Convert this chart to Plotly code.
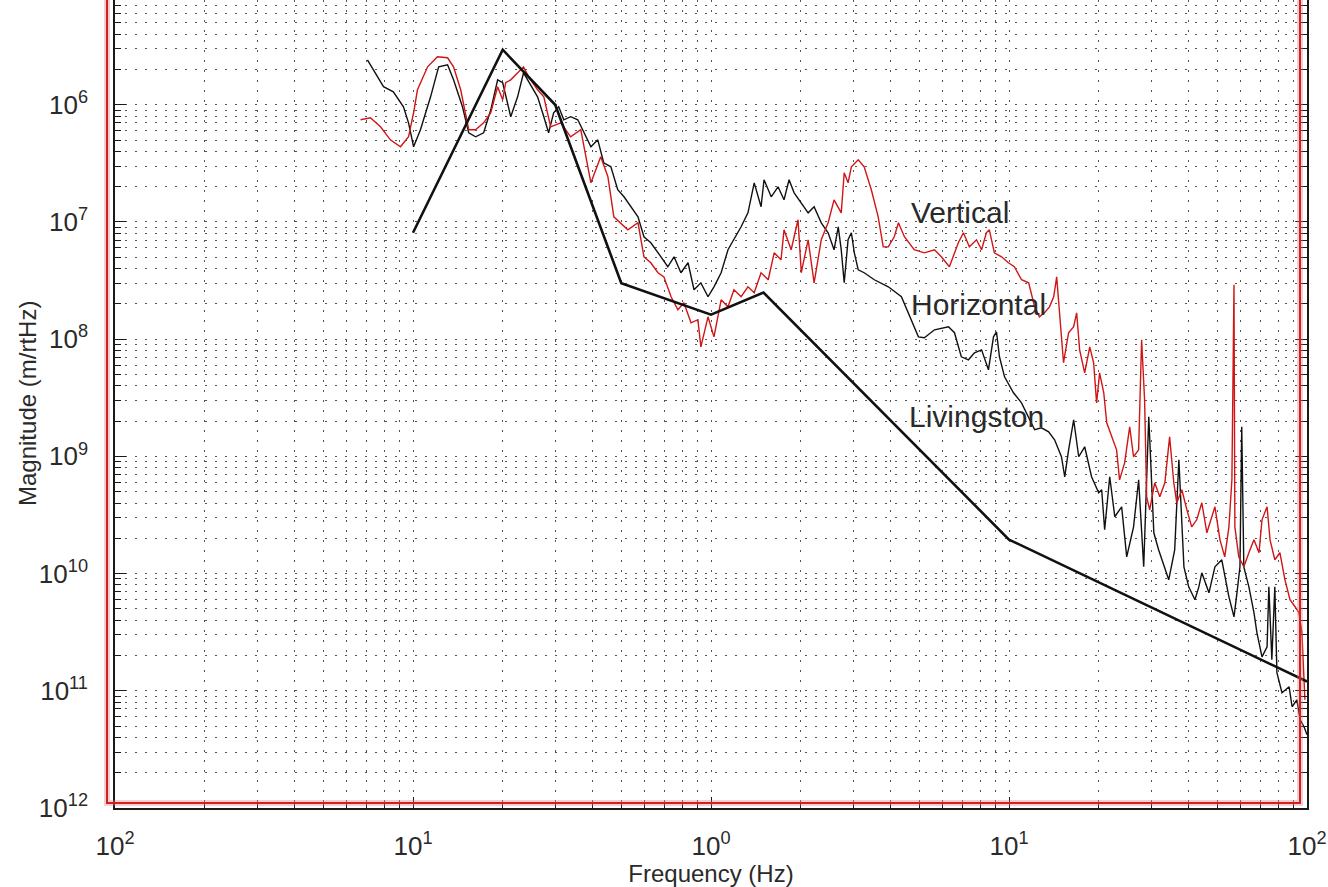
import numpy as np
import plotly.graph_objects as go

# ---------------- data ----------------
# Livingston model curve (Hz, m/rtHz)
livingston_freq = [0.1, 0.2, 0.3, 0.5, 1.0, 1.5, 10.0, 100.0]
livingston_mag = [8.1e-8, 2.95e-6, 1.0e-6, 3.0e-8, 1.62e-8, 2.5e-8, 1.95e-10, 1.2e-11]

# Horizontal spectrum (black), log10 of frequency [Hz] and log10 of magnitude [m/rtHz]
horizontal_log10_freq = [
    -1.153, -1.099, -1.066, -1.032, -1.015, -0.998, -0.975, -0.941, -0.914, -0.884,
    -0.864, -0.834, -0.813, -0.790, -0.763, -0.739, -0.716, -0.699, -0.672, -0.649,
    -0.629, -0.598, -0.582, -0.561, -0.545, -0.528, -0.511, -0.494, -0.471, -0.447,
    -0.427, -0.403, -0.380, -0.360, -0.336, -0.313, -0.292, -0.269, -0.245, -0.225,
    -0.202, -0.168, -0.145, -0.124, -0.101, -0.077, -0.057, -0.034, -0.010, 0.010,
    0.034, 0.057, 0.077, 0.101, 0.124, 0.145, 0.168, 0.178, 0.202, 0.225,
    0.245, 0.262, 0.279, 0.303, 0.326, 0.346, 0.370, 0.393, 0.413, 0.427,
    0.437, 0.447, 0.460, 0.471, 0.481, 0.494, 0.514, 0.548, 0.595, 0.639,
    0.662, 0.696, 0.716, 0.750, 0.797, 0.817, 0.840, 0.864, 0.884, 0.908,
    0.931, 0.948, 0.958, 0.968, 0.985, 1.002, 1.015, 1.042, 1.066, 1.086,
    1.109, 1.133, 1.153, 1.176, 1.187, 1.200, 1.217, 1.234, 1.254, 1.277,
    1.301, 1.311, 1.321, 1.338, 1.355, 1.378, 1.395, 1.418, 1.435, 1.452,
    1.469, 1.486, 1.502, 1.523, 1.536, 1.556, 1.570, 1.587, 1.603, 1.624,
    1.637, 1.647, 1.671, 1.691, 1.714, 1.738, 1.755, 1.765, 1.775, 1.781,
    1.788, 1.805, 1.822, 1.832, 1.849, 1.866, 1.872, 1.882, 1.892, 1.899,
    1.916, 1.940, 1.950, 1.966, 1.977, 1.990, 2.000,
]
horizontal_log10_mag = [
    -5.616, -5.846, -5.889, -6.017, -6.154, -6.358, -6.213, -5.932, -5.676, -5.659,
    -5.787, -6.017, -6.239, -6.273, -6.239, -6.043, -5.787, -5.812, -6.102, -5.932,
    -5.727, -5.855, -5.932, -6.102, -6.239, -6.068, -6.017, -6.128, -6.102, -6.128,
    -6.239, -6.358, -6.299, -6.495, -6.529, -6.725, -6.785, -6.870, -6.956, -7.126,
    -7.177, -7.297, -7.382, -7.297, -7.433, -7.348, -7.578, -7.519, -7.638, -7.553,
    -7.433, -7.237, -7.152, -7.041, -6.922, -6.666, -6.870, -6.640, -6.785, -6.700,
    -6.811, -6.640, -6.751, -6.836, -6.922, -6.870, -7.007, -7.092, -7.237, -7.041,
    -7.237, -7.519, -7.152, -7.092, -7.263, -7.408, -7.433, -7.493, -7.553, -7.638,
    -7.775, -7.980, -7.988, -7.920, -7.894, -7.945, -8.150, -8.176, -8.116, -8.091,
    -8.261, -7.980, -7.937, -8.150, -8.321, -8.406, -8.457, -8.543, -8.662, -8.773,
    -8.756, -8.790, -8.858, -9.003, -9.174, -8.944, -8.688, -9.003, -8.918, -9.174,
    -9.311, -9.285, -9.626, -9.174, -9.515, -9.430, -9.857, -9.601, -9.200, -9.942,
    -8.662, -9.652, -9.797, -9.968, -10.053, -9.797, -9.029, -9.942, -10.113, -10.223,
    -10.113, -9.993, -10.164, -9.942, -9.882, -10.198, -10.369, -10.164, -9.942, -8.747,
    -9.942, -10.113, -10.334, -10.505, -10.710, -10.625, -10.113, -10.735, -10.113, -10.846,
    -11.017, -10.966, -11.136, -11.077, -11.247, -11.307, -11.375,
]

# Vertical spectrum (red), log10 of frequency [Hz] and log10 of magnitude [m/rtHz]
vertical_log10_freq = [
    -1.176, -1.143, -1.109, -1.076, -1.042, -1.015, -0.998, -0.985, -0.951, -0.918,
    -0.884, -0.864, -0.840, -0.824, -0.813, -0.790, -0.763, -0.739, -0.716, -0.699,
    -0.689, -0.672, -0.649, -0.629, -0.612, -0.582, -0.561, -0.538, -0.504, -0.471,
    -0.437, -0.403, -0.370, -0.346, -0.326, -0.303, -0.279, -0.245, -0.225, -0.202,
    -0.178, -0.158, -0.134, -0.111, -0.091, -0.067, -0.044, -0.034, -0.010, 0.010,
    0.034, 0.057, 0.077, 0.101, 0.124, 0.145, 0.168, 0.192, 0.212, 0.235,
    0.245, 0.269, 0.292, 0.303, 0.326, 0.346, 0.370, 0.393, 0.413, 0.437,
    0.447, 0.460, 0.471, 0.494, 0.514, 0.538, 0.561, 0.578, 0.595, 0.615,
    0.629, 0.649, 0.682, 0.716, 0.750, 0.773, 0.800, 0.830, 0.847, 0.867,
    0.891, 0.908, 0.924, 0.934, 0.951, 0.975, 0.998, 1.018, 1.042, 1.066,
    1.086, 1.102, 1.119, 1.136, 1.150, 1.160, 1.170, 1.183, 1.200, 1.217,
    1.227, 1.237, 1.254, 1.271, 1.284, 1.294, 1.304, 1.318, 1.328, 1.345,
    1.361, 1.371, 1.388, 1.405, 1.418, 1.435, 1.445, 1.455, 1.462, 1.472,
    1.489, 1.506, 1.523, 1.539, 1.553, 1.563, 1.580, 1.597, 1.613, 1.630,
    1.647, 1.664, 1.681, 1.691, 1.708, 1.724, 1.738, 1.748, 1.755, 1.758,
    1.771, 1.788, 1.805, 1.822, 1.839, 1.849, 1.866, 1.876, 1.892, 1.909,
    1.926, 1.943, 1.960, 1.973, 1.983, 1.993,
]
vertical_log10_mag = [
    -6.128, -6.111, -6.188, -6.299, -6.358, -6.273, -6.068, -5.872, -5.676, -5.590,
    -5.599, -5.676, -5.872, -6.068, -6.213, -6.213, -6.154, -6.068, -5.846, -5.957,
    -5.812, -5.787, -5.727, -5.676, -5.761, -5.872, -5.932, -6.188, -6.154, -6.273,
    -6.213, -6.666, -6.444, -6.614, -6.956, -7.007, -7.067, -7.007, -7.297, -7.348,
    -7.433, -7.468, -7.638, -7.749, -7.689, -7.860, -7.834, -8.065, -7.809, -7.980,
    -7.664, -7.724, -7.578, -7.638, -7.553, -7.604, -7.433, -7.493, -7.263, -7.323,
    -7.067, -7.237, -6.981, -7.433, -7.152, -7.519, -7.152, -7.007, -6.811, -6.922,
    -6.580, -6.666, -6.529, -6.469, -6.529, -6.725, -6.956, -7.212, -7.212, -7.126,
    -7.007, -7.126, -7.237, -7.263, -7.237, -7.297, -7.382, -7.177, -7.092, -7.212,
    -7.152, -7.237, -7.092, -7.067, -7.263, -7.297, -7.348, -7.382, -7.493, -7.519,
    -7.724, -7.809, -7.775, -7.724, -7.638, -7.468, -7.809, -8.201, -7.945, -7.894,
    -7.775, -8.091, -8.287, -8.065, -8.201, -8.543, -8.287, -8.457, -8.713, -8.833,
    -8.944, -9.200, -9.055, -8.747, -9.003, -8.944, -8.005, -8.517, -9.345, -9.456,
    -9.225, -9.345, -9.225, -8.833, -9.225, -9.396, -9.285, -9.456, -9.601, -9.541,
    -9.396, -9.652, -9.515, -9.430, -9.712, -9.857, -9.601, -9.200, -7.536, -9.601,
    -9.857, -9.942, -9.822, -9.712, -9.822, -9.541, -9.430, -9.712, -9.882, -9.822,
    -10.053, -10.223, -10.283, -10.334, -10.505, -11.077,
]

# Tick labels as printed in the picture (minus signs are not shown there)
x_tick_values = [0.01, 0.1, 1, 10, 100]
x_tick_labels = ["10<sup>2</sup>", "10<sup>1</sup>", "10<sup>0</sup>", "10<sup>1</sup>", "10<sup>2</sup>"]
y_tick_values = [1e-12, 1e-11, 1e-10, 1e-9, 1e-8, 1e-7, 1e-6]
y_tick_labels = ["10<sup>12</sup>", "10<sup>11</sup>", "10<sup>10</sup>", "10<sup>9</sup>",
                 "10<sup>8</sup>", "10<sup>7</sup>", "10<sup>6</sup>"]

curve_labels = ["Vertical", "Horizontal", "Livingston"]
curve_label_freq = [4.62, 4.62, 4.55]
curve_label_mag = [1.2e-7, 1.96e-8, 2.18e-9]

# ---------------- figure ----------------
FONT = "Liberation Sans, Arial, Helvetica, sans-serif"
TXT = "#2a2a2a"
GRID = "#555555"
DASH = "1.5px,8.5px"

fig = go.Figure()

fig.add_trace(go.Scatter(
    x=10 ** np.array(horizontal_log10_freq), y=10 ** np.array(horizontal_log10_mag),
    mode="lines", line=dict(color="#111111", width=1.4), name="Horizontal",
    showlegend=False))
fig.add_trace(go.Scatter(
    x=10 ** np.array(vertical_log10_freq), y=10 ** np.array(vertical_log10_mag),
    mode="lines", line=dict(color="#d01515", width=1.4), name="Vertical",
    showlegend=False))
fig.add_trace(go.Scatter(
    x=livingston_freq, y=livingston_mag,
    mode="lines", line=dict(color="#111111", width=2.6), name="Livingston",
    showlegend=False))

for txt, fx, my in zip(curve_labels, curve_label_freq, curve_label_mag):
    fig.add_annotation(x=np.log10(fx), y=np.log10(my), xref="x", yref="y",
                       text=txt, showarrow=False, xanchor="left", yanchor="middle",
                       font=dict(family=FONT, size=30, color=TXT))

# y-axis title placed close to the tick labels, as in the picture
plot_w, plot_h = 1192, 808
fig.add_annotation(x=-88 / plot_w, y=0.5, xref="paper", yref="paper",
                   text="Magnitude (m/rtHz)", textangle=-90, showarrow=False,
                   xanchor="center", yanchor="middle",
                   font=dict(family=FONT, size=24, color=TXT))

minor_x = [m * 10.0 ** k for k in range(-2, 2) for m in range(2, 10)]
minor_y = [m * 10.0 ** k for k in range(-12, -5) for m in range(2, 10)]

common_axis = dict(
    showline=True, linecolor="#1a1a1a", linewidth=1.6,
    ticks="inside", ticklen=11, tickwidth=1.2, tickcolor="#1a1a1a",
    showgrid=True, gridcolor=GRID, gridwidth=1, griddash=DASH,
    tickfont=dict(family=FONT, size=26, color=TXT),
    zeroline=False,
)

fig.update_xaxes(
    type="log", range=[-2, 2], tickmode="array",
    tickvals=x_tick_values, ticktext=x_tick_labels, mirror=False,
    ticklabelstandoff=14,
    title=dict(text="Frequency (Hz)", font=dict(family=FONT, size=24, color=TXT), standoff=4),
    minor=dict(tickmode="array", tickvals=minor_x, ticks="inside", ticklen=6,
               tickcolor="#1a1a1a", showgrid=True, gridcolor=GRID, griddash=DASH),
    **common_axis)
fig.update_yaxes(
    type="log", range=[-12, -5.106], tickmode="array",
    tickvals=y_tick_values, ticktext=y_tick_labels, mirror="allticks",
    ticklabelstandoff=20,
    minor=dict(tickmode="array", tickvals=minor_y, ticks="inside", ticklen=6,
               tickcolor="#1a1a1a", showgrid=True, gridcolor=GRID, griddash=DASH),
    **common_axis)

# red video-frame border around the axes
fig.add_shape(type="rect", xref="paper", yref="paper",
              x0=-8 / plot_w, x1=1185 / plot_w, y0=5 / plot_h, y1=1.05,
              line=dict(color="rgba(230,120,120,0.35)", width=6), layer="above")
fig.add_shape(type="rect", xref="paper", yref="paper",
              x0=-8 / plot_w, x1=1185 / plot_w, y0=5 / plot_h, y1=1.05,
              line=dict(color="#d02020", width=2), layer="above")

fig.update_layout(
    width=1328, height=887,
    margin=dict(l=115, r=21, t=0, b=79, autoexpand=False),
    paper_bgcolor="white", plot_bgcolor="white",
    font=dict(family=FONT, color=TXT),
    showlegend=False,
)

fig.write_html("out.html", config={"displayModeBar": False},
               post_script="document.body.style.margin='0';document.body.style.overflow='hidden';")
